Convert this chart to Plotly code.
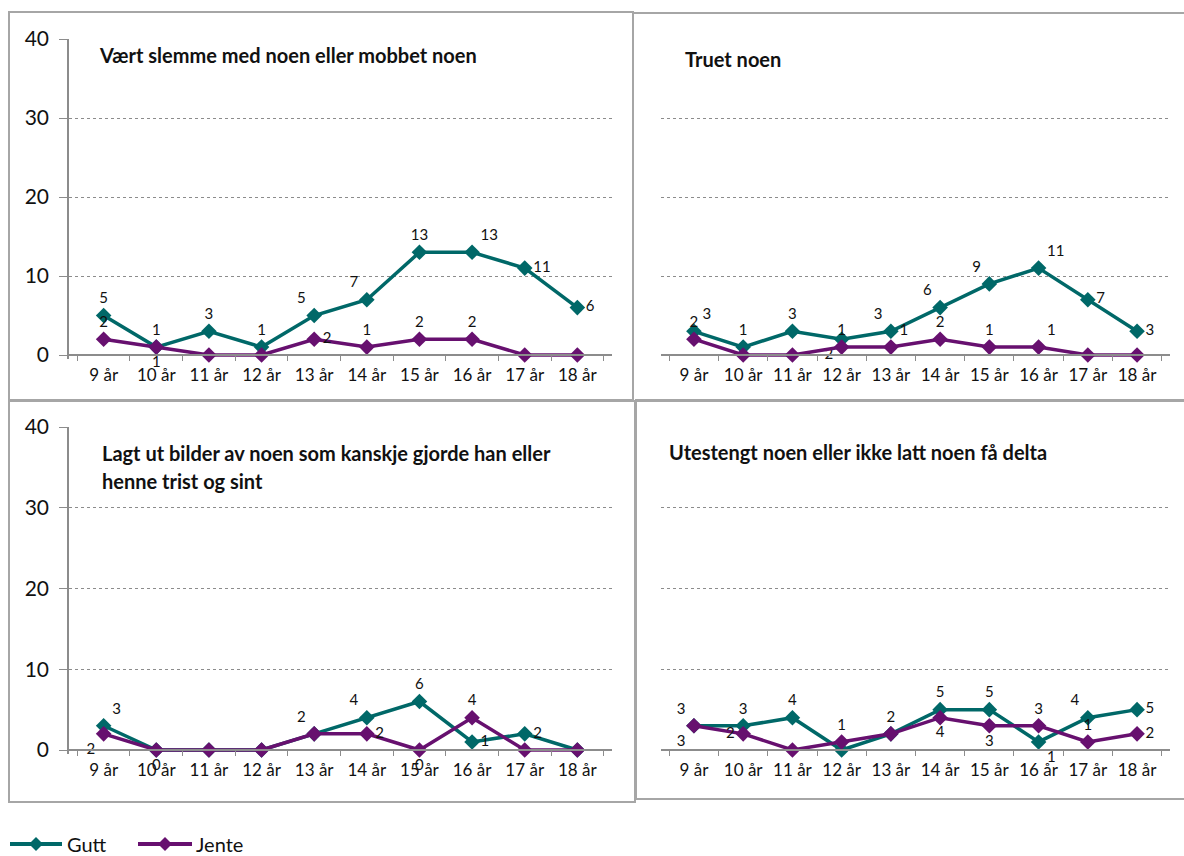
import plotly.graph_objects as go

# Age groups on the x axis
ages = ["9 år", "10 år", "11 år", "12 år", "13 år", "14 år", "15 år", "16 år", "17 år", "18 år"]

# Values per panel
gutt_slemme = [5, 1, 3, 1, 5, 7, 13, 13, 11, 6]
jente_slemme = [2, 1, 0, 0, 2, 1, 2, 2, 0, 0]
gutt_truet = [3, 1, 3, 2, 3, 6, 9, 11, 7, 3]
jente_truet = [2, 0, 0, 1, 1, 2, 1, 1, 0, 0]
gutt_bilder = [3, 0, 0, 0, 2, 4, 6, 1, 2, 0]
jente_bilder = [2, 0, 0, 0, 2, 2, 0, 4, 0, 0]
gutt_utestengt = [3, 3, 4, 0, 2, 5, 5, 1, 4, 5]
jente_utestengt = [3, 2, 0, 1, 2, 4, 3, 3, 1, 2]

series_names = ["Gutt", "Jente"]
titles = [
    ["Vært slemme med noen eller mobbet noen"],
    ["Truet noen"],
    ["Lagt ut bilder av noen som kanskje gjorde han eller", "henne trist og sint"],
    ["Utestengt noen eller ikke latt noen få delta"],
]
y_ticks = [0, 10, 20, 30, 40]

# where each data label sits (None = label not shown)
TC, TL, TR, MR, ML, BC, BL, BR = ("top center", "top left", "top right", "middle right",
                                  "middle left", "bottom center", "bottom left", "bottom right")
pos_gutt = [
    [TC, TC, TC, TC, TL, TL, TC, TR, MR, MR],
    [TR, TC, TC, BL, TL, TL, TL, TR, MR, MR],
    [TR, None, None, None, TL, TL, TC, MR, MR, None],
    [TL, TC, TC, None, TC, TC, TC, BR, TL, MR],
]
pos_jente = [
    [TC, BC, None, None, MR, TC, TC, TC, None, None],
    [TC, None, None, TC, TR, TC, TC, TR, None, None],
    [BL, BC, None, None, None, MR, BC, TC, None, None],
    [BL, ML, None, TC, None, BC, BC, TC, TC, MR],
]

W, H = 1184, 856
GUTT = "#006868"
JENTE = "#67106f"
FONT = "Lato"


def px(x):
    return x / W


def py(y):
    return 1 - y / H


def labels(values, positions):
    text = [str(v) if p else "" for v, p in zip(values, positions)]
    tpos = [p if p else "top center" for p in positions]
    return text, tpos


panels = [
    (gutt_slemme, jente_slemme),
    (gutt_truet, jente_truet),
    (gutt_bilder, jente_bilder),
    (gutt_utestengt, jente_utestengt),
]

# plot areas in pixels: x0, x1, y_top(40), y_zero(0)
areas = [(69, 612, 39, 355), (661, 1170, 39, 355), (69, 612, 427, 750), (661, 1170, 427, 750)]

fig = go.Figure()
layout = {}
ymin = -0.5

for i, ((g, j), (x0, x1, ytop, yzero)) in enumerate(zip(panels, areas)):
    n = "" if i == 0 else str(i + 1)
    xa, ya = "x" + n, "y" + n
    scale = (yzero - ytop) / 40.0
    ybottom = yzero - ymin * scale

    for vals, pos, name, col in [(g, pos_gutt[i], series_names[0], GUTT),
                                 (j, pos_jente[i], series_names[1], JENTE)]:
        text, tpos = labels(vals, pos)
        fig.add_trace(go.Scatter(
            x=ages, y=vals, name=name, mode="lines+markers+text",
            line=dict(color=col, width=3.5),
            marker=dict(symbol="diamond", size=12, color=col),
            text=text, textposition=tpos,
            textfont=dict(family=FONT, size=15, color="#111111"),
            cliponaxis=False, showlegend=False,
            xaxis=xa, yaxis=ya,
        ))

    left = i in (0, 2)
    layout["xaxis" + n] = dict(
        domain=[px(x0), px(x1)], anchor="free", position=py(yzero), automargin=False,
        type="category", showline=True, linecolor="#8c8c8c", linewidth=1.5,
        ticks="outside", tickson="boundaries", ticklen=5, tickcolor="#8c8c8c",
        tickfont=dict(family=FONT, size=17, color="#111111"), ticklabelstandoff=5,
        showgrid=False, zeroline=False, fixedrange=True,
    )
    layout["yaxis" + n] = dict(
        domain=[py(ybottom), py(ytop)], anchor=xa, range=[ymin, 40], automargin=False,
        tickvals=y_ticks, showticklabels=left, showline=left, linecolor="#8c8c8c", linewidth=1.5,
        ticks="outside" if left else "", ticklen=8, tickcolor="#8c8c8c",
        tickfont=dict(family=FONT, size=21, color="#111111"), ticklabelstandoff=6,
        showgrid=True, gridcolor="#8c8c8c", griddash="dot", gridwidth=1,
        zeroline=False, fixedrange=True,
    )

# panel titles
title_pos = [(97, 55), (683, 59), (100, 453), (667, 452)]
annotations = []
for lines, (tx, ty) in zip(titles, title_pos):
    for k, line in enumerate(lines):
        annotations.append(dict(
            text="<b>" + line + "</b>", xref="paper", yref="paper",
            x=px(tx), y=py(ty + k * 28), xanchor="left", yanchor="middle",
            showarrow=False, font=dict(family=FONT, size=20, color="#111111"),
        ))

# panel frames
frames = [(9, 12, 633, 400), (633, 13, 1200, 401), (9, 401, 635, 802), (636, 400, 1200, 799)]
shapes = [dict(type="rect", xref="paper", yref="paper", x0=px(a), x1=px(c), y0=py(d), y1=py(b),
               line=dict(color="#a6a6a6", width=2)) for a, b, c, d in frames]

# legend drawn by hand at the bottom edge (line + diamond + name)
LEG_Y = 844
for name, col, (lx0, lx1, tx) in zip(series_names, [GUTT, JENTE], [(10, 62, 66), (138, 192, 195)]):
    cx, cy = px((lx0 + lx1) / 2), py(LEG_Y)
    dx, dy = 7 / W, 7 / H
    shapes.append(dict(type="line", xref="paper", yref="paper", x0=px(lx0), x1=px(lx1),
                       y0=cy, y1=cy, line=dict(color=col, width=4)))
    shapes.append(dict(type="path", xref="paper", yref="paper", fillcolor=col, line=dict(width=0),
                       path=f"M {cx - dx} {cy} L {cx} {cy + dy} L {cx + dx} {cy} L {cx} {cy - dy} Z"))
    annotations.append(dict(text=name, xref="paper", yref="paper", x=px(tx), y=cy,
                            xanchor="left", yanchor="middle", showarrow=False, borderpad=0,
                            font=dict(family=FONT, size=20, color="#111111")))

fig.update_layout(
    width=W, height=H, margin=dict(l=0, r=0, t=0, b=0),
    paper_bgcolor="white", plot_bgcolor="white",
    font=dict(family=FONT, color="#111111"),
    annotations=annotations, shapes=shapes, showlegend=False,
    **layout,
)

# drop the default page margin so the figure fills the window exactly
fig.write_html("out.html", config={"displayModeBar": False},
               post_script="document.body.style.margin = '0px';")
